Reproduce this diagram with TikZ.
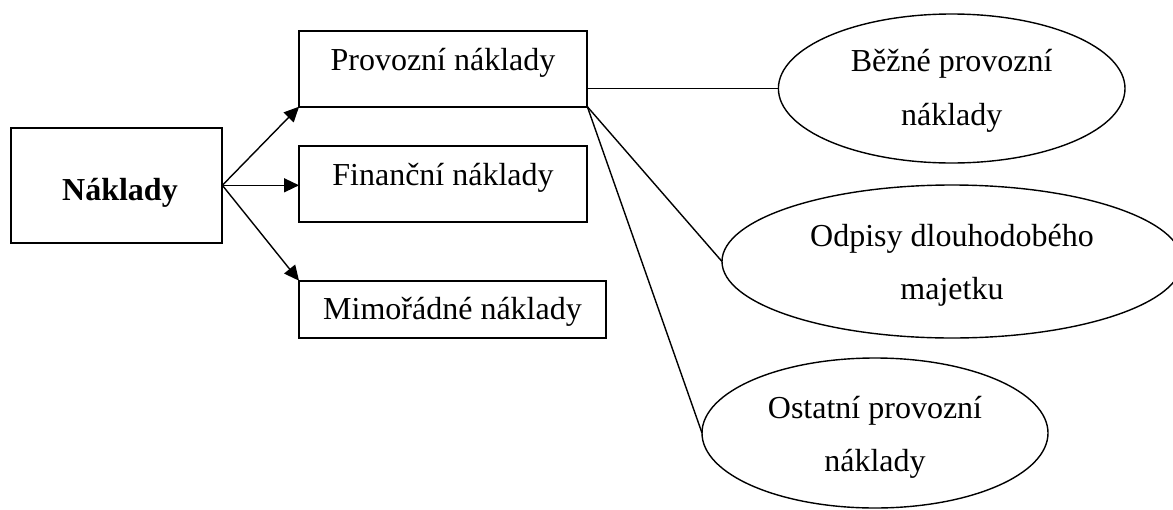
\documentclass[tikz,border=0pt]{standalone}
\usepackage{fontspec}
\setmainfont{Liberation Serif}
\usetikzlibrary{arrows.meta,shapes.geometric}
\begin{document}
\begin{tikzpicture}[x=0.5pt,y=-0.5pt,
  box/.style={draw, line width=1pt, rectangle, inner sep=0pt, outer sep=0pt},
  oval/.style={draw, line width=0.7pt, ellipse, inner sep=0pt, outer sep=0pt},
  txt/.style={anchor=base, inner sep=0pt, font=\fontsize{16pt}{20pt}\selectfont},
  link/.style={line width=0.7pt},
  arr/.style={line width=0.7pt, -{Triangle[length=7.5pt,width=7pt]}}]
% page
\fill[white] (0,0) rectangle (1173,509);
\useasboundingbox (0,0) rectangle (1173,509);

% root box
\node[box, minimum width=105.65pt, minimum height=57.35pt] (nak) at (116.7,185.3) {};
\node[txt, font=\fontsize{16pt}{20pt}\selectfont\bfseries] (nakT) at (120,200) {Náklady};

% cost groups
\node[box, minimum width=144.15pt, minimum height=37.85pt] (prov) at (443.2,68.85) {};
\node[txt] (provT) at (443,70.7) {Provozní náklady};
\node[box, minimum width=144.15pt, minimum height=37.85pt] (fin) at (443.2,183.85) {};
\node[txt] (finT) at (443,185) {Finanční náklady};
\node[box, minimum width=153.5pt, minimum height=28.8pt] (mim) at (452.5,309.5) {};
\node[txt] (mimT) at (452.5,319.3) {Mimořádné náklady};

% operating cost items
\node[oval, minimum width=173.3pt, minimum height=74.5pt] (bez) at (951.7,88.5) {};
\node[txt] (bezT1) at (951.7,71.5) {Běžné provozní};
\node[txt] (bezT2) at (951.7,125) {náklady};
\node[oval, minimum width=230pt, minimum height=76.5pt] (odp) at (952,261.5) {};
\node[txt] (odpT1) at (952,246) {Odpisy dlouhodobého};
\node[txt] (odpT2) at (952,299.5) {majetku};
\node[oval, minimum width=173pt, minimum height=75pt] (ost) at (875,433) {};
\node[txt] (ostT1) at (875,418) {Ostatní provozní};
\node[txt] (ostT2) at (875,471.5) {náklady};

% arrows from the root
\draw[arr] (nak.east) -- (prov.south west);
\draw[arr] (nak.east) -- (nak.east -| fin.west);
\draw[arr] (nak.east) -- (mim.north west);

% links to the operating cost items
\draw[link] (bez.west -| prov.east) -- (bez.west);
\draw[link] (prov.south east) -- (odp.west);
\draw[link] (prov.south east) -- (ost.west);
\end{tikzpicture}
\end{document}
